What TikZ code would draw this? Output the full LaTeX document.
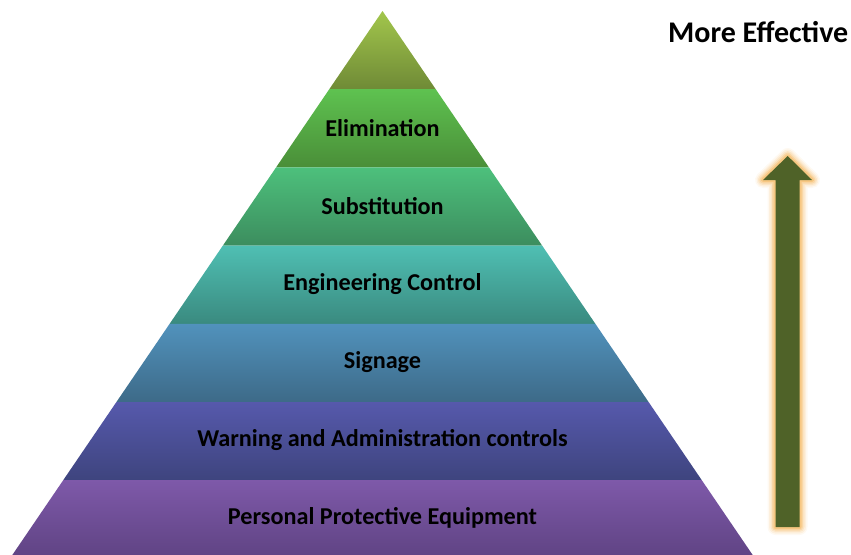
\documentclass[tikz,border=0pt]{standalone}
\usepackage{fontspec}
\setmainfont{Carlito}
\begin{document}
\begin{tikzpicture}[x=1pt,y=-1pt,
  lbl/.style={font=\bfseries\fontsize{24.2}{27}\selectfont, text=black, inner sep=0pt},
  glow/.style={draw=glowc, line join=round, line cap=round}]
\useasboundingbox (0,0) rectangle (851,554);
\def\ax{382.5}\def\ay{11}\def\sl{0.6805}
\newcommand{\layer}[4]{% y1 y2 topcolor bottomcolor
  \pgfmathsetmacro{\wa}{(#1-\ay)*\sl}
  \pgfmathsetmacro{\wb}{(#2-\ay)*\sl}
  \shade[top color=#3, bottom color=#4]
    (\ax-\wa,#1) -- (\ax+\wa,#1) -- (\ax+\wb,#2) -- (\ax-\wb,#2) -- cycle;}
\definecolor{c1t}{HTML}{A2C64C}\definecolor{c1b}{HTML}{6F8A36}
\definecolor{c2t}{HTML}{5EC250}\definecolor{c2b}{HTML}{4A8E38}
\definecolor{c3t}{HTML}{4DC07C}\definecolor{c3b}{HTML}{3C8D5E}
\definecolor{c4t}{HTML}{4FBFB3}\definecolor{c4b}{HTML}{3A8A7F}
\definecolor{c5t}{HTML}{5192BC}\definecolor{c5b}{HTML}{3D6A88}
\definecolor{c6t}{HTML}{5659AC}\definecolor{c6b}{HTML}{3E447E}
\definecolor{c7t}{HTML}{7E59A9}\definecolor{c7b}{HTML}{5F4383}
\definecolor{arr}{HTML}{4F6228}
\definecolor{glowc}{HTML}{F4B355}
\layer{11}{89.2}{c1t}{c1b}
\layer{89.2}{167.4}{c2t}{c2b}
\layer{167.4}{245.6}{c3t}{c3b}
\layer{245.6}{323.8}{c4t}{c4b}
\layer{323.8}{402}{c5t}{c5b}
\layer{402}{480.2}{c6t}{c6b}
\layer{480.2}{558.4}{c7t}{c7b}
\node[lbl] (l2) at (\ax,128) {Elimination};
\node[lbl] (l3) at (\ax,206) {Substitution};
\node[lbl] (l4) at (\ax,284) {Engineering Control};
\node[lbl] (l5) at (\ax,362) {Signage};
\node[lbl] (l6) at (\ax,440) {Warning and Administration controls};
\node[lbl] (l7) at (\ax,518) {Personal Protective Equipment};
\node[lbl, anchor=east, font=\bfseries\fontsize{30}{33}\selectfont] (me) at (848.5,32) {More Effective};
% arrow with glow
\def\arrowpath{(775.5,527) -- (775.5,180) -- (763,180) -- (787.7,156) -- (812,180) -- (799.5,180) -- (799.5,527) -- cycle}
\foreach \w/\o in {16/0.08,13/0.12,10/0.18,7/0.28,4/0.45}{
  \draw[glow, line width=\w pt, opacity=\o] \arrowpath;}
\fill[arr] \arrowpath;
\end{tikzpicture}
\end{document}
